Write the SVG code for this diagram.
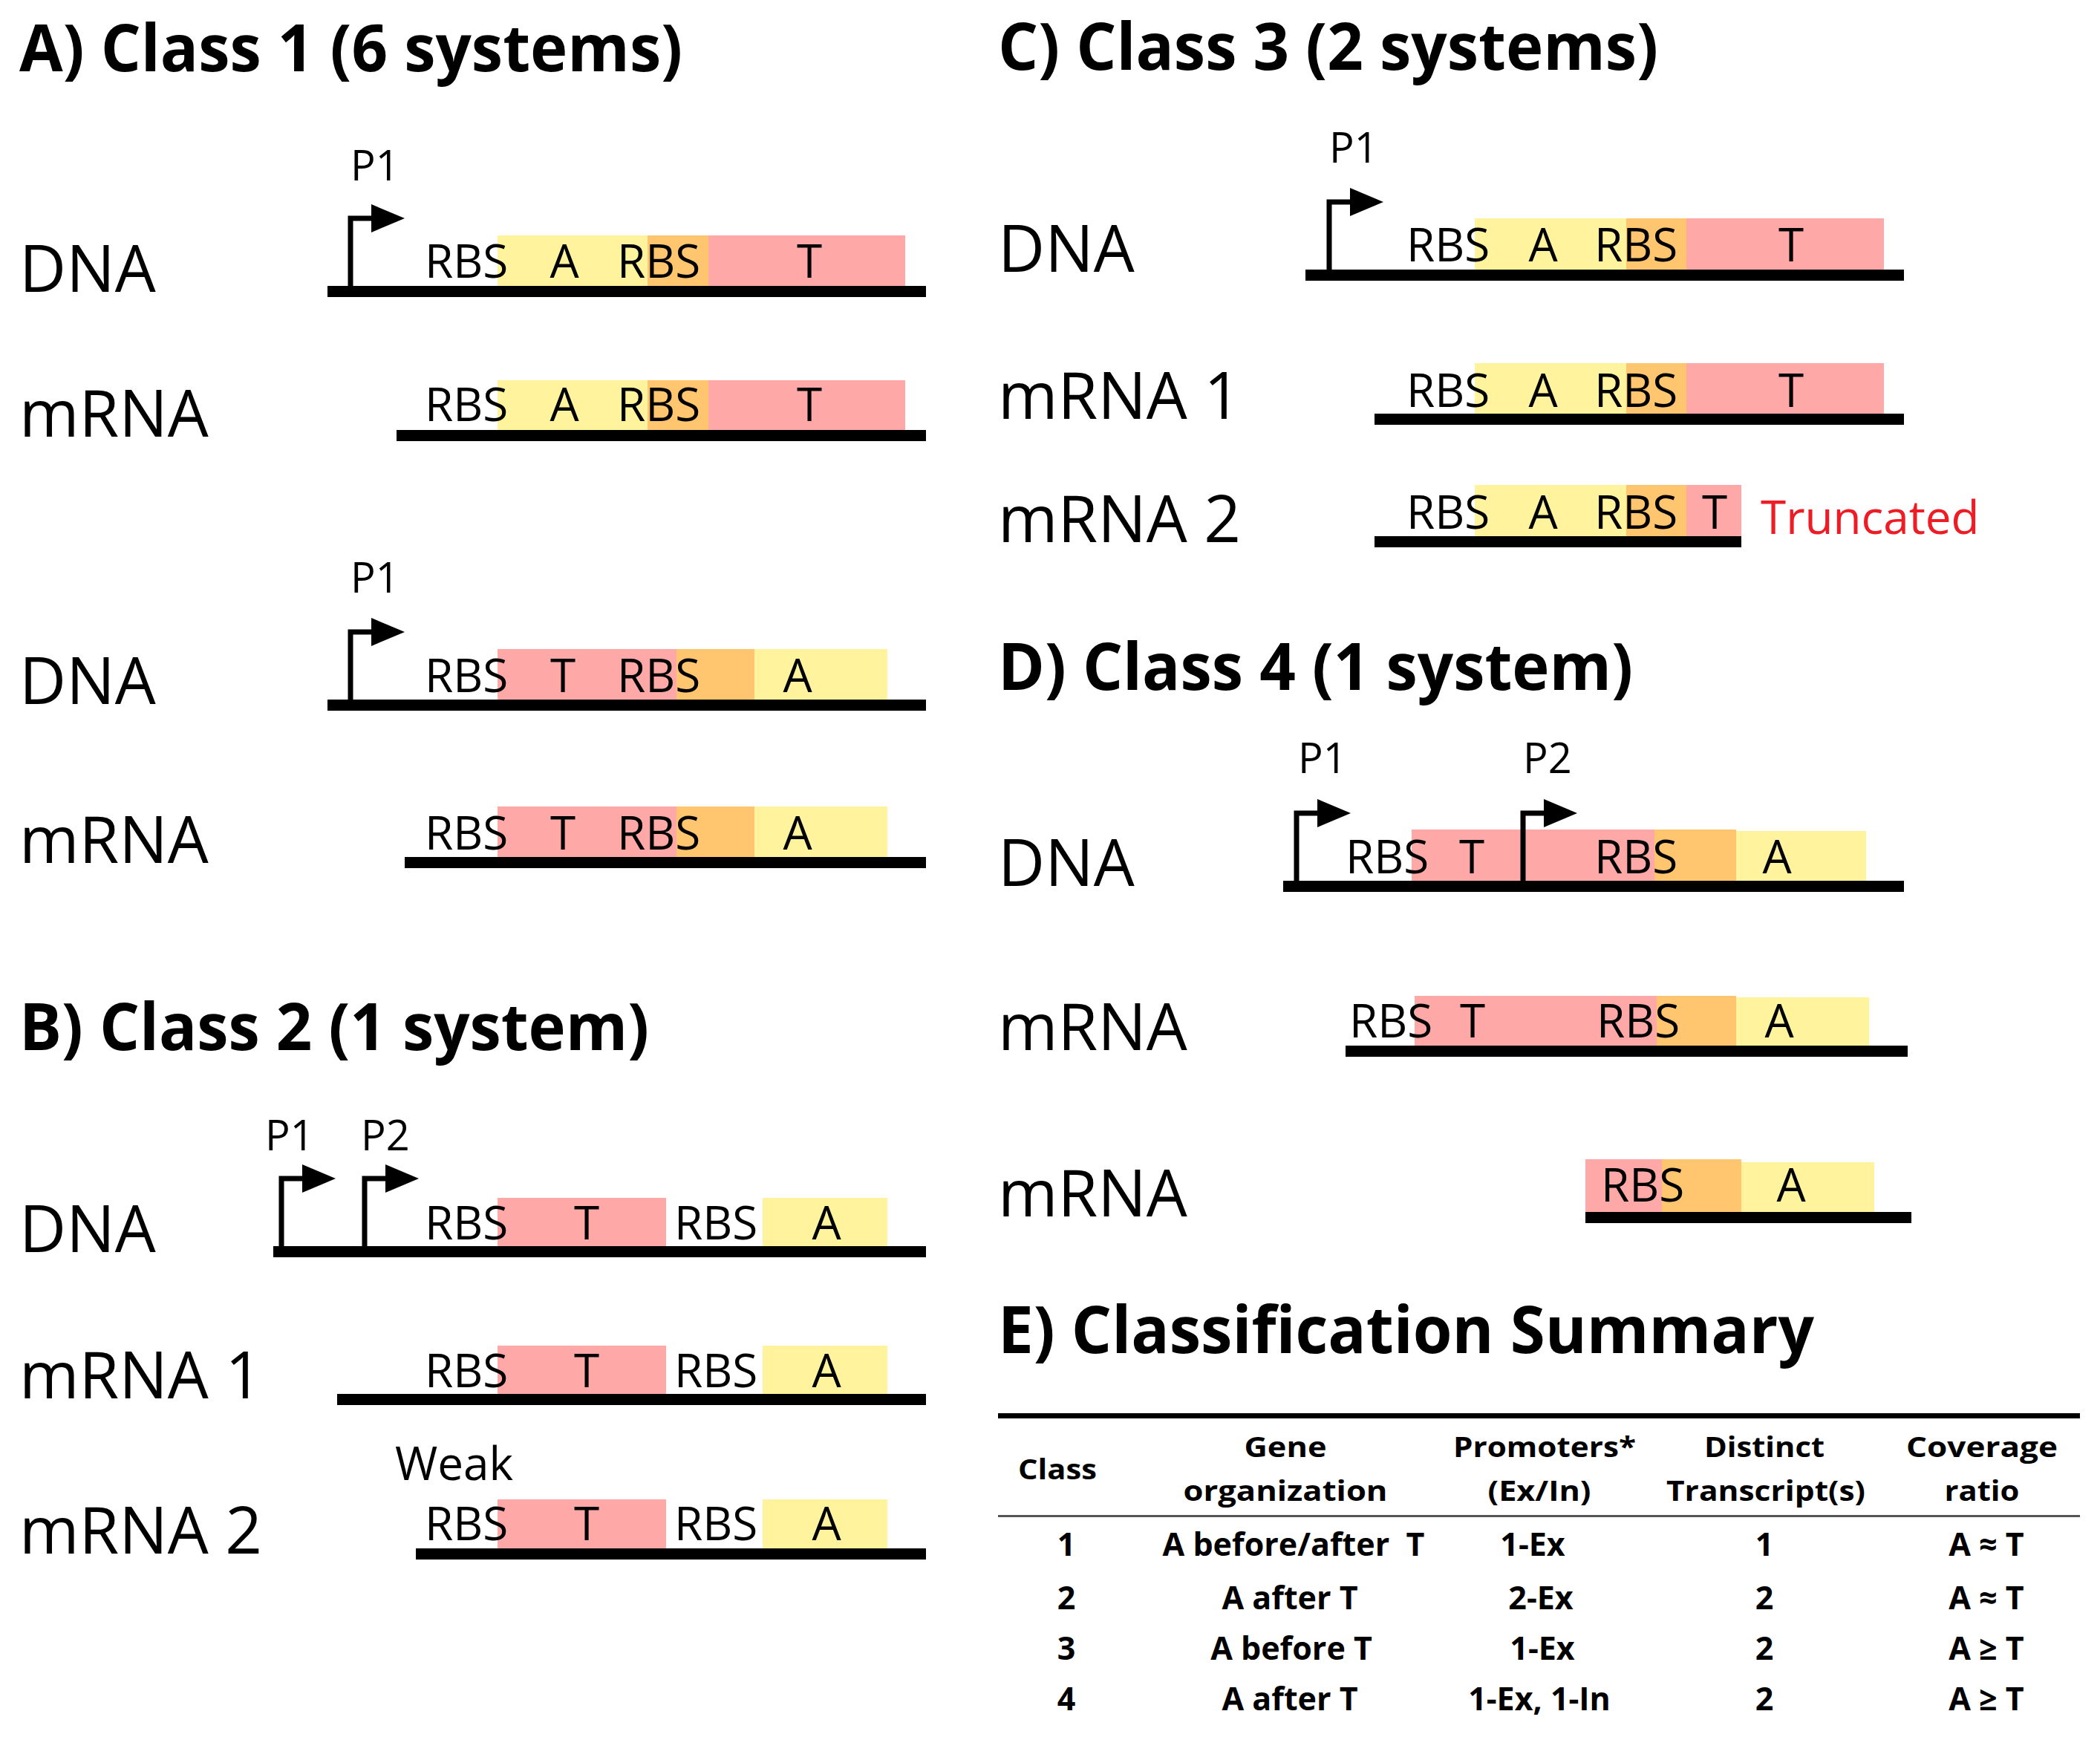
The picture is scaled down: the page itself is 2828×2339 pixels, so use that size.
<svg xmlns="http://www.w3.org/2000/svg" xmlns:xlink="http://www.w3.org/1999/xlink" width="2828" height="2339" viewBox="0 0 2828 2339">
<style>
text{font-family:"Open Sans","Noto Sans","Liberation Sans",sans-serif;fill:#000}
.title{font-size:87px;font-weight:700}
.lbl{font-size:87px}
.seg{font-size:62px}
.mid{text-anchor:middle}
.pl{font-size:56px}
.y{fill:#FFF39D}.o{fill:#FFC56F}.r{fill:#FFA8A8}
.bar{fill:#000}
.th{font-size:38px;font-weight:700;text-anchor:middle}
.td{font-size:43px;font-weight:700;text-anchor:middle}
.trunc{fill:#EE1C25}
</style>
<defs>
<g id="prom">
<path d="M0,2 V-91 H32" fill="none" stroke="#000" stroke-width="7"/>
<polygon points="28,-110 73,-91 28,-72" fill="#000"/>
</g>
</defs>
<rect width="2828" height="2339" fill="#fff"/>

<!-- Panel A -->
<g id="panelA">
<text class="title" x="26" y="96" textLength="893" lengthAdjust="spacingAndGlyphs">A) Class 1 (6 systems)</text>
<g id="A-dna1">
<text class="lbl" x="26" y="393">DNA</text>
<rect class="y" x="670" y="317" width="202" height="68"/>
<rect class="o" x="872" y="317" width="82" height="68"/>
<rect class="r" x="954" y="317" width="265" height="68"/>
<rect class="bar" x="441" y="385" width="806" height="15"/>
<use xlink:href="#prom" x="472" y="385"/>
<text class="pl" x="472" y="243">P1</text>
<text class="seg" x="572" y="374">RBS</text>
<text class="seg mid" x="760" y="374">A</text>
<text class="seg" x="831" y="374">RBS</text>
<text class="seg mid" x="1090" y="374">T</text>
</g>
<g id="A-mrna1">
<text class="lbl" x="26" y="588">mRNA</text>
<rect class="y" x="670" y="512" width="202" height="67"/>
<rect class="o" x="872" y="512" width="82" height="67"/>
<rect class="r" x="954" y="512" width="265" height="67"/>
<rect class="bar" x="534" y="579" width="713" height="15"/>
<text class="seg" x="572" y="567">RBS</text>
<text class="seg mid" x="760" y="567">A</text>
<text class="seg" x="831" y="567">RBS</text>
<text class="seg mid" x="1090" y="567">T</text>
</g>
<g id="A-dna2">
<text class="lbl" x="26" y="948">DNA</text>
<rect class="r" x="670" y="874" width="241" height="68"/>
<rect class="o" x="911" y="874" width="105" height="68"/>
<rect class="y" x="1016" y="874" width="179" height="68"/>
<rect class="bar" x="441" y="942" width="806" height="15"/>
<use xlink:href="#prom" x="472" y="942"/>
<text class="pl" x="472" y="798">P1</text>
<text class="seg" x="572" y="932">RBS</text>
<text class="seg mid" x="758" y="932">T</text>
<text class="seg" x="831" y="932">RBS</text>
<text class="seg mid" x="1074" y="932">A</text>
</g>
<g id="A-mrna2">
<text class="lbl" x="26" y="1162">mRNA</text>
<rect class="r" x="670" y="1086" width="241" height="68"/>
<rect class="o" x="911" y="1086" width="105" height="68"/>
<rect class="y" x="1016" y="1086" width="179" height="68"/>
<rect class="bar" x="545" y="1154" width="702" height="15"/>
<text class="seg" x="572" y="1144">RBS</text>
<text class="seg mid" x="758" y="1144">T</text>
<text class="seg" x="831" y="1144">RBS</text>
<text class="seg mid" x="1074" y="1144">A</text>
</g>
</g>

<!-- Panel B -->
<g id="panelB">
<text class="title" x="26" y="1414" textLength="848" lengthAdjust="spacingAndGlyphs">B) Class 2 (1 system)</text>
<g id="B-dna">
<text class="lbl" x="26" y="1686">DNA</text>
<rect class="r" x="670" y="1613" width="227" height="65"/>
<rect class="y" x="1027" y="1613" width="168" height="65"/>
<rect class="bar" x="368" y="1678" width="879" height="15"/>
<use xlink:href="#prom" x="379" y="1678"/>
<use xlink:href="#prom" x="491" y="1678"/>
<text class="pl" x="357" y="1549">P1</text>
<text class="pl" x="486" y="1549">P2</text>
<text class="seg" x="572" y="1669">RBS</text>
<text class="seg mid" x="790" y="1669">T</text>
<text class="seg" x="908" y="1669">RBS</text>
<text class="seg mid" x="1113" y="1669">A</text>
</g>
<g id="B-mrna1">
<text class="lbl" x="26" y="1883">mRNA 1</text>
<rect class="r" x="670" y="1812" width="227" height="65"/>
<rect class="y" x="1027" y="1812" width="168" height="65"/>
<rect class="bar" x="454" y="1877" width="793" height="15"/>
<text class="seg" x="572" y="1868">RBS</text>
<text class="seg mid" x="790" y="1868">T</text>
<text class="seg" x="908" y="1868">RBS</text>
<text class="seg mid" x="1113" y="1868">A</text>
</g>
<g id="B-mrna2">
<text class="lbl" x="26" y="2092">mRNA 2</text>
<text class="seg" x="532" y="1993">Weak</text>
<rect class="r" x="670" y="2019" width="227" height="66"/>
<rect class="y" x="1027" y="2019" width="168" height="66"/>
<rect class="bar" x="560" y="2085" width="687" height="15"/>
<text class="seg" x="572" y="2074">RBS</text>
<text class="seg mid" x="790" y="2074">T</text>
<text class="seg" x="908" y="2074">RBS</text>
<text class="seg mid" x="1113" y="2074">A</text>
</g>
</g>

<!-- Panel C -->
<g id="panelC">
<text class="title" x="1344" y="94" textLength="889" lengthAdjust="spacingAndGlyphs">C) Class 3 (2 systems)</text>
<g id="C-dna">
<text class="lbl" x="1344" y="366">DNA</text>
<rect class="y" x="1986" y="294" width="204" height="69"/>
<rect class="o" x="2190" y="294" width="81" height="69"/>
<rect class="r" x="2271" y="294" width="266" height="69"/>
<rect class="bar" x="1758" y="363" width="806" height="15"/>
<use xlink:href="#prom" x="1790" y="363"/>
<text class="pl" x="1790" y="219">P1</text>
<text class="seg" x="1894" y="352">RBS</text>
<text class="seg mid" x="2078" y="352">A</text>
<text class="seg" x="2147" y="352">RBS</text>
<text class="seg mid" x="2412" y="352">T</text>
</g>
<g id="C-mrna1">
<text class="lbl" x="1344" y="564">mRNA 1</text>
<rect class="y" x="1986" y="489" width="204" height="68"/>
<rect class="o" x="2190" y="489" width="81" height="68"/>
<rect class="r" x="2271" y="489" width="266" height="68"/>
<rect class="bar" x="1851" y="557" width="713" height="15"/>
<text class="seg" x="1894" y="548">RBS</text>
<text class="seg mid" x="2078" y="548">A</text>
<text class="seg" x="2147" y="548">RBS</text>
<text class="seg mid" x="2412" y="548">T</text>
</g>
<g id="C-mrna2">
<text class="lbl" x="1344" y="730">mRNA 2</text>
<rect class="y" x="1986" y="653" width="204" height="69"/>
<rect class="o" x="2190" y="653" width="81" height="69"/>
<rect class="r" x="2271" y="653" width="74" height="69"/>
<rect class="bar" x="1851" y="722" width="494" height="15"/>
<text class="seg" x="1894" y="712">RBS</text>
<text class="seg mid" x="2078" y="712">A</text>
<text class="seg" x="2147" y="712">RBS</text>
<text class="seg mid" x="2309" y="712">T</text>
<text class="seg trunc" x="2371" y="719">Truncated</text>
</g>
</g>

<!-- Panel D -->
<g id="panelD">
<text class="title" x="1344" y="929" textLength="855" lengthAdjust="spacingAndGlyphs">D) Class 4 (1 system)</text>
<g id="D-dna">
<text class="lbl" x="1344" y="1193">DNA</text>
<rect class="r" x="1901" y="1117" width="327" height="69"/>
<rect class="o" x="2228" y="1117" width="110" height="69"/>
<rect class="y" x="2338" y="1119" width="175" height="67"/>
<rect class="bar" x="1728" y="1186" width="836" height="15"/>
<use xlink:href="#prom" x="1746" y="1186"/>
<use xlink:href="#prom" x="2051" y="1186"/>
<text class="pl" x="1748" y="1041">P1</text>
<text class="pl" x="2051" y="1041">P2</text>
<text class="seg" x="1812" y="1176">RBS</text>
<text class="seg mid" x="1982" y="1176">T</text>
<text class="seg" x="2147" y="1176">RBS</text>
<text class="seg mid" x="2393" y="1176">A</text>
</g>
<g id="D-mrna1">
<text class="lbl" x="1344" y="1414">mRNA</text>
<rect class="r" x="1905" y="1341" width="326" height="67"/>
<rect class="o" x="2231" y="1341" width="107" height="67"/>
<rect class="y" x="2338" y="1343" width="179" height="65"/>
<rect class="bar" x="1812" y="1408" width="757" height="15"/>
<text class="seg" x="1817" y="1397">RBS</text>
<text class="seg mid" x="1983" y="1397">T</text>
<text class="seg" x="2150" y="1397">RBS</text>
<text class="seg mid" x="2396" y="1397">A</text>
</g>
<g id="D-mrna2">
<text class="lbl" x="1344" y="1638">mRNA</text>
<rect class="r" x="2135" y="1561" width="103" height="71"/>
<rect class="o" x="2238" y="1561" width="107" height="71"/>
<rect class="y" x="2345" y="1565" width="179" height="67"/>
<rect class="bar" x="2135" y="1632" width="439" height="15"/>
<text class="seg" x="2156" y="1618">RBS</text>
<text class="seg mid" x="2412" y="1618">A</text>
</g>
</g>

<!-- Panel E -->
<g id="panelE">
<text class="title" x="1344" y="1822" textLength="1099" lengthAdjust="spacingAndGlyphs">E) Classification Summary</text>
<g id="E-table">
<rect x="1344" y="1903" width="1457" height="7" fill="#000"/>
<rect x="1344" y="2040" width="1457" height="3" fill="#555"/>
<text class="th" x="1424" y="1992" textLength="106" lengthAdjust="spacingAndGlyphs">Class</text>
<text class="th" x="1731" y="1962" textLength="111" lengthAdjust="spacingAndGlyphs">Gene</text>
<text class="th" x="1731" y="2021" textLength="275" lengthAdjust="spacingAndGlyphs">organization</text>
<text class="th" x="2080" y="1962" textLength="246" lengthAdjust="spacingAndGlyphs">Promoters*</text>
<text class="th" x="2073" y="2021" textLength="139" lengthAdjust="spacingAndGlyphs">(Ex/In)</text>
<text class="th" x="2376" y="1962" textLength="162" lengthAdjust="spacingAndGlyphs">Distinct</text>
<text class="th" x="2378" y="2021" textLength="268" lengthAdjust="spacingAndGlyphs">Transcript(s)</text>
<text class="th" x="2669" y="1962" textLength="204" lengthAdjust="spacingAndGlyphs">Coverage</text>
<text class="th" x="2669" y="2021" textLength="101" lengthAdjust="spacingAndGlyphs">ratio</text>

<text class="td" x="1436" y="2095">1</text>
<text class="td" x="1742" y="2095">A before/after&#160; T</text>
<text class="td" x="2064" y="2095">1-Ex</text>
<text class="td" x="2376" y="2095">1</text>
<text class="td" x="2675" y="2095">A ≈ T</text>

<text class="td" x="1436" y="2167">2</text>
<text class="td" x="1737" y="2167">A after T</text>
<text class="td" x="2075" y="2167">2-Ex</text>
<text class="td" x="2376" y="2167">2</text>
<text class="td" x="2675" y="2167">A ≈ T</text>

<text class="td" x="1436" y="2235">3</text>
<text class="td" x="1739" y="2235">A before T</text>
<text class="td" x="2077" y="2235">1-Ex</text>
<text class="td" x="2376" y="2235">2</text>
<text class="td" x="2675" y="2235">A ≥ T</text>

<text class="td" x="1436" y="2303">4</text>
<text class="td" x="1737" y="2303">A after T</text>
<text class="td" x="2073" y="2303">1-Ex, 1-In</text>
<text class="td" x="2376" y="2303">2</text>
<text class="td" x="2675" y="2303">A ≥ T</text>
</g>
</g>
<g id="connectors"/>
</svg>
